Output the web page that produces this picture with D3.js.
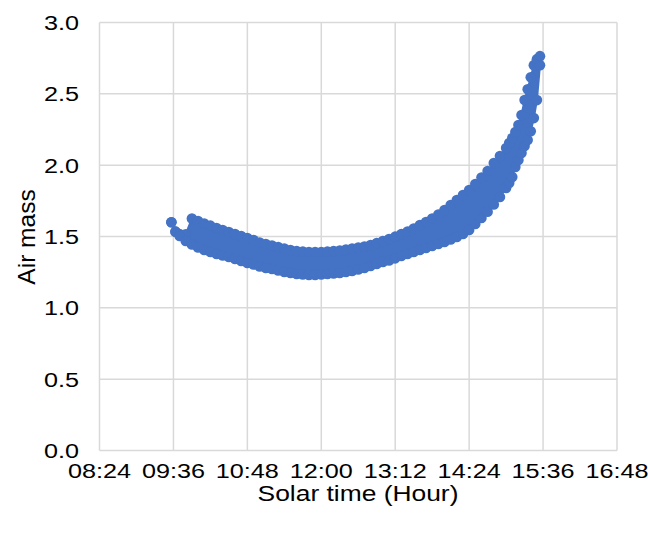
<!DOCTYPE html>
<html>
<head>
<meta charset="utf-8">
<script src="https://cdn.jsdelivr.net/npm/d3@7"></script>
<style>
  html, body { margin: 0; padding: 0; background: #fff; }
  svg { display: block; }
  text { font-family: "Liberation Sans", Arial, Helvetica, sans-serif; fill: #000; }
</style>
</head>
<body>
<svg id="chart" width="648" height="534"></svg>
<script>
// Solar time of each observation column, with the upper and lower air mass readings
const solarTime = [
  "09:34","09:38","09:42","09:48","09:54","10:00","10:06","10:12","10:18","10:24",
  "10:30","10:36","10:42","10:48","10:54","11:00","11:06","11:12","11:18","11:24",
  "11:30","11:36","11:42","11:48","11:54","12:00","12:06","12:12","12:18","12:24",
  "12:30","12:36","12:42","12:48","12:54","13:00","13:06","13:12","13:18","13:24",
  "13:30","13:36","13:42","13:48","13:54","14:00","14:06","14:12","14:18","14:24",
  "14:30","14:36","14:42","14:48","14:54","15:00","15:03","15:06","15:09","15:12",
  "15:15","15:18","15:21","15:24","15:27","15:30","15:33"
];
const airMassUpper = [
  1.600,1.534,1.518,1.516,1.626,1.609,1.591,1.576,1.560,1.546,
  1.532,1.518,1.503,1.489,1.475,1.458,1.447,1.437,1.426,1.416,
  1.405,1.398,1.395,1.391,1.391,1.391,1.395,1.398,1.402,1.409,
  1.416,1.423,1.430,1.440,1.454,1.468,1.482,1.499,1.518,1.535,
  1.556,1.581,1.602,1.626,1.654,1.686,1.720,1.756,1.791,1.826,
  1.868,1.913,1.959,2.015,2.064,2.120,2.155,2.190,2.232,2.281,
  2.351,2.456,2.532,2.616,2.701,2.743,2.764
];
const airMassLower = [
  1.600,1.534,1.503,1.469,1.444,1.423,1.405,1.391,1.377,1.367,
  1.356,1.342,1.328,1.314,1.304,1.290,1.279,1.272,1.262,1.251,
  1.244,1.237,1.234,1.230,1.230,1.234,1.237,1.241,1.244,1.251,
  1.258,1.269,1.279,1.293,1.307,1.321,1.332,1.347,1.363,1.377,
  1.391,1.405,1.419,1.433,1.447,1.461,1.479,1.496,1.518,1.546,
  1.588,1.630,1.674,1.724,1.777,1.840,1.875,1.917,1.987,2.036,
  2.085,2.134,2.176,2.238,2.330,2.456,2.700
];

// Axis ticks
const xTickLabels = ["08:24","09:36","10:48","12:00","13:12","14:24","15:36","16:48"];
const yTickValues = [0, 0.5, 1.0, 1.5, 2.0, 2.5, 3.0];

const toHours = s => { const [h, m] = s.split(":").map(Number); return h + m / 60; };

const margin = { left: 99.5, right: 31, top: 22.5, bottom: 83.5 };
const W = 648, H = 534;
const svg = d3.select("#chart");

const x = d3.scaleLinear()
  .domain([toHours(xTickLabels[0]), toHours(xTickLabels[xTickLabels.length - 1])])
  .range([margin.left, W - margin.right]);
const y = d3.scaleLinear().domain([0, 3]).range([H - margin.bottom, margin.top]);

const gridColor = "#d9d9d9";
const blue = "#4472c4";
const textStretch = 1.2;

// Gridlines
const grid = svg.append("g");
grid.selectAll("line.h").data(yTickValues).join("line")
  .attr("x1", x.range()[0]).attr("x2", x.range()[1])
  .attr("y1", d => y(d)).attr("y2", d => y(d))
  .attr("stroke", gridColor).attr("stroke-width", 1.5);
grid.selectAll("line.v").data(xTickLabels).join("line")
  .attr("x1", d => x(toHours(d))).attr("x2", d => x(toHours(d)))
  .attr("y1", y.range()[0]).attr("y2", y.range()[1])
  .attr("stroke", gridColor).attr("stroke-width", 1.5);

// Tick labels
svg.append("g").selectAll("text").data(yTickValues).join("text")
  .attr("transform", d => `translate(79,${y(d)}) scale(${textStretch},1)`)
  .attr("text-anchor", "end").attr("dy", "0.35em")
  .attr("font-size", 21)
  .text(d => d3.format(".1f")(d));

svg.append("g").selectAll("text").data(xTickLabels).join("text")
  .attr("transform", d => `translate(${x(toHours(d))},478) scale(${textStretch},1)`)
  .attr("text-anchor", "middle")
  .attr("font-size", 21)
  .text(d => d);

// Axis titles
svg.append("text")
  .attr("transform", `translate(358,501) scale(${textStretch},1)`)
  .attr("text-anchor", "middle").attr("font-size", 22)
  .text("Solar time (Hour)");
svg.append("text")
  .attr("transform", "translate(35,237) rotate(-90)")
  .attr("text-anchor", "middle").attr("font-size", 24.5)
  .text("Air mass");

// Observations: filled band between the upper and lower readings, with markers on both edges
const obs = solarTime.map((t, i) => ({ t: toHours(t), hi: airMassUpper[i], lo: airMassLower[i] }));

const bandArea = d3.area()
  .x(d => x(d.t))
  .y0(d => y(d.lo))
  .y1(d => y(d.hi));
svg.append("path")
  .attr("d", bandArea(obs))
  .attr("fill", blue)
  .attr("stroke", blue)
  .attr("stroke-width", 2);

const markers = svg.append("g").attr("fill", blue);
markers.selectAll("circle.hi").data(obs).join("circle")
  .attr("cx", d => x(d.t)).attr("cy", d => y(d.hi)).attr("r", 5.3);
markers.selectAll("circle.lo").data(obs).join("circle")
  .attr("cx", d => x(d.t)).attr("cy", d => y(d.lo)).attr("r", 5.3);
</script>
</body>
</html>
